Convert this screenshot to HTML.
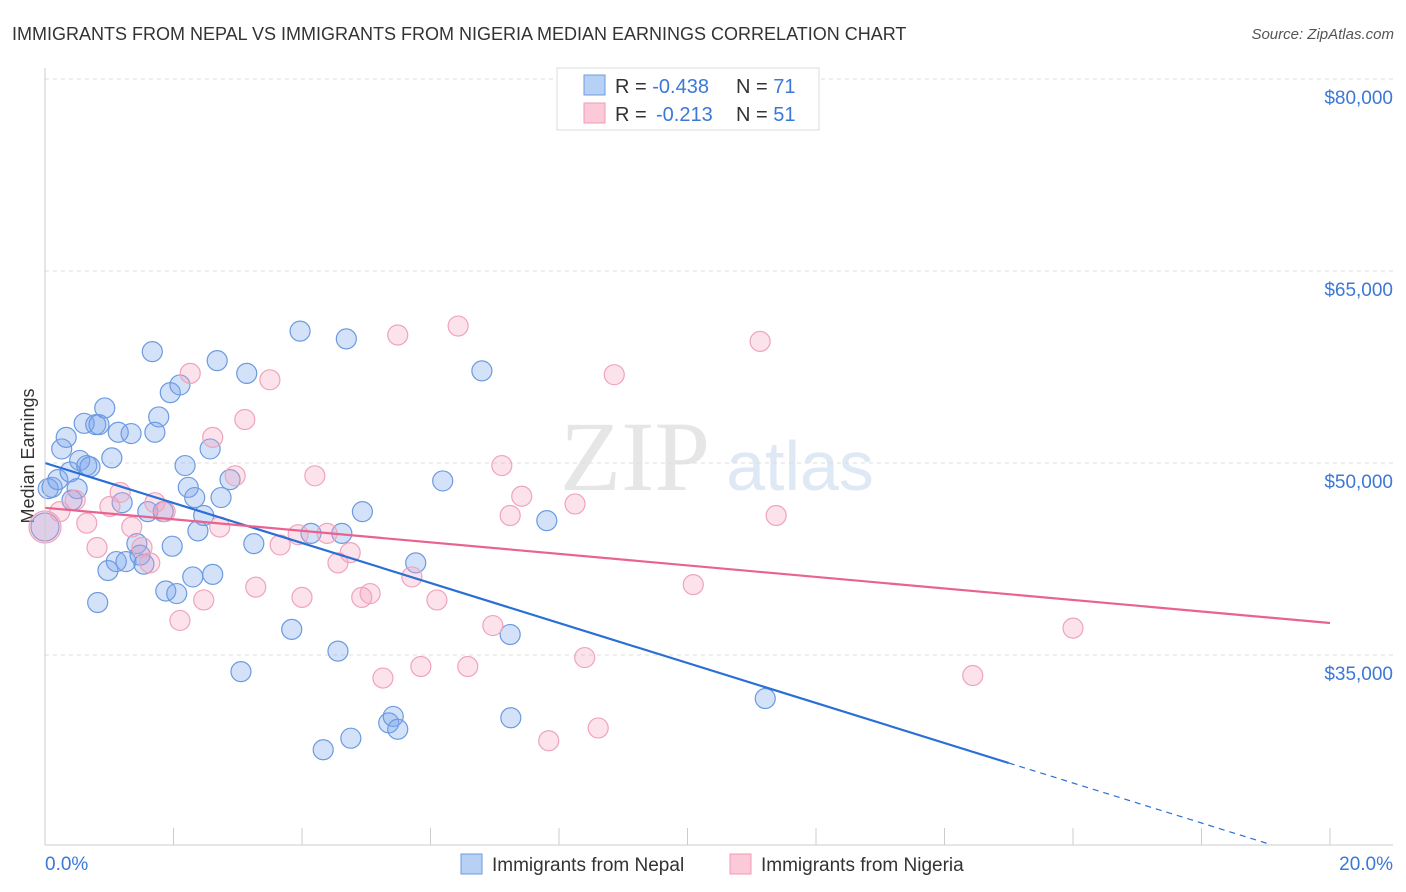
<!DOCTYPE html>
<html><head><meta charset="utf-8"><style>
body{margin:0;background:#fff;font-family:"Liberation Sans",sans-serif;}
#wrap{position:relative;width:1406px;height:892px;overflow:hidden;}
</style></head><body><div id="wrap">
<svg id="svg" width="1406" height="892" xmlns="http://www.w3.org/2000/svg">
<text x="12" y="40" font-size="18" fill="#333">IMMIGRANTS FROM NEPAL VS IMMIGRANTS FROM NIGERIA MEDIAN EARNINGS CORRELATION CHART</text>
<text x="1394" y="39" font-size="15" fill="#555" font-style="italic" text-anchor="end">Source: ZipAtlas.com</text>
<text x="635" y="490" font-size="100" fill="#e6e6e6" font-family="Liberation Serif,serif" text-anchor="middle">ZIP</text>
<text x="800" y="490" font-size="70" fill="#dfe8f5" text-anchor="middle">atlas</text>
<text transform="translate(34,456) rotate(-90)" font-size="18" fill="#333" text-anchor="middle">Median Earnings</text>
<g id="grid"></g><g id="ticks"></g><g id="pts"></g><g id="lines"></g>
<line x1="45" y1="68" x2="45" y2="845" stroke="#ccc"/>
<line x1="45" y1="845" x2="1393" y2="845" stroke="#ccc"/>
<text x="45" y="870" font-size="19" fill="#3b78d8">0.0%</text>
<text x="1393" y="870" font-size="19" fill="#3b78d8" text-anchor="end">20.0%</text>
<g>
<rect x="557" y="68" width="262" height="62" fill="#fff" stroke="#ddd"/>
<rect x="584" y="75" width="21" height="20" fill="#b7d1f4" stroke="#6f9be0"/>
<rect x="584" y="103" width="21" height="20" fill="#fbc9d7" stroke="#f09ab4"/>
<text x="615" y="93" font-size="20" fill="#333">R = <tspan fill="#3b78d8">-0.438</tspan><tspan x="736">N = </tspan><tspan fill="#3b78d8">71</tspan></text>
<text x="615" y="121" font-size="20" fill="#333">R = <tspan x="656" fill="#3b78d8">-0.213</tspan><tspan x="736">N = </tspan><tspan fill="#3b78d8">51</tspan></text>
</g>
<g>
<rect x="461" y="854" width="21" height="20" fill="#b7d1f4" stroke="#6f9be0"/>
<text x="492" y="871" font-size="19" fill="#333">Immigrants from Nepal</text></g>
<g>
<rect x="730" y="854" width="21" height="20" fill="#fbc9d7" stroke="#f09ab4"/>
<text x="761" y="871" font-size="19" fill="#333">Immigrants from Nigeria</text></g>
</svg></div>
<script>
const yTicks=[80000,65000,50000,35000];
const yTickLabels=["$80,000","$65,000","$50,000","$35,000"];
const xTicks=[0,2,4,6,8,10,12,14,16,18,20];
const nepalX=[0.05,0.11,0.20,0.26,0.33,0.39,0.42,0.50,0.54,0.61,0.65,0.70,0.79,0.84,0.93,0.82,0.98,1.04,1.11,1.14,1.20,1.26,1.34,1.43,1.48,1.54,1.60,1.67,1.71,1.77,1.84,1.88,1.95,1.98,2.05,2.10,2.18,2.23,2.30,2.33,2.38,2.47,2.57,2.61,2.68,2.74,2.88,3.05,3.14,3.25,3.84,3.97,4.14,4.33,4.56,4.62,4.69,4.76,4.94,5.35,5.42,5.49,5.77,6.19,6.80,7.24,7.25,7.81,11.21,0.0];
const nepalY=[48000,48100,48700,51100,52000,49300,47100,48000,50200,53100,49800,49700,53000,53000,54300,39100,41600,50400,42300,52400,46900,42300,52300,43700,42800,42100,46200,58700,52400,53600,46200,40000,55500,43500,39800,56100,49800,48100,41100,47300,44700,45900,51100,41300,58000,47300,48700,33700,57000,43700,37000,60300,44500,27600,35300,44500,59700,28500,46200,29700,30200,29200,42200,48600,57200,36600,30100,45500,31600,45000];
const nigeriaX=[0.23,0.47,0.65,0.81,1.01,1.17,1.35,1.51,1.63,1.71,1.87,2.10,2.26,2.47,2.61,2.72,2.96,3.11,3.28,3.50,3.66,3.94,4.00,4.20,4.39,4.56,4.75,4.93,5.06,5.26,5.49,5.71,5.85,6.10,6.43,6.58,6.97,7.11,7.24,7.42,7.84,8.25,8.40,8.61,8.86,10.09,11.13,11.38,14.44,16.00,0.0];
const nigeriaY=[46200,47100,45300,43400,46600,47700,45000,43400,42200,46900,46200,37700,57000,39300,52000,45000,49000,53400,40300,56500,43600,44400,39500,49000,44500,42200,43000,39500,39800,33200,60000,41100,34100,39300,60700,34100,37300,49800,45900,47400,28300,46800,34800,29300,56900,40500,59500,45900,33400,37100,45000];
const nepalTrend=[50000,18750];
const nigeriaTrend=[46500,37500];
const X=p=>45+p*64.25, Y=v=>463+(50000-v)*0.0128;
const NS="http://www.w3.org/2000/svg";
function mk(t,a,parent){const e=document.createElementNS(NS,t);for(const k in a)e.setAttribute(k,a[k]);document.getElementById(parent).appendChild(e);return e;}
yTicks.forEach((v,i)=>{
 const g=mk('line',{x1:45,x2:1393,y1:Y(v),y2:Y(v),stroke:'#ddd','stroke-dasharray':'4,4'},'grid');
 
 
 const t=mk('text',{x:1393,y:Y(v)+25,'font-size':19,fill:'#3b78d8','text-anchor':'end'},'grid');
 t.textContent=yTickLabels[i];
 
 
});
xTicks.forEach(p=>{
 const l=mk('line',{x1:X(p),x2:X(p),y1:828,y2:845,stroke:'#ccc'},'ticks');
 
 
});
nepalX.forEach((p,i)=>{
 const big=(i===nepalX.length-1);
 const c=mk('circle',{cx:X(p),cy:Y(nepalY[i]),r:big?14:10,fill:'rgba(120,165,235,0.32)',stroke:'#6b9ae0','stroke-width':1.2},'pts');
 
 
});
nigeriaX.forEach((p,i)=>{
 const big=(i===nigeriaX.length-1);
 const c=mk('circle',{cx:X(p),cy:Y(nigeriaY[i]),r:big?16:10,fill:'rgba(245,160,190,0.3)',stroke:'#f0a3bb','stroke-width':1.2},'pts');
 
 
});
const bs=v=>nepalTrend[0]+(nepalTrend[1]-nepalTrend[0])*v/20;
let l1=mk('line',{x1:X(0),y1:Y(bs(0)),x2:X(15),y2:Y(bs(15)),stroke:'#2a6fd6','stroke-width':2.2},'lines');


let l2=mk('line',{x1:X(15),y1:Y(bs(15)),x2:X(19.05),y2:Y(bs(19.05)),stroke:'#2a6fd6','stroke-width':1.2,'stroke-dasharray':'6,5'},'lines');


let l3=mk('line',{x1:X(0),y1:Y(nigeriaTrend[0]),x2:X(20),y2:Y(nigeriaTrend[1]),stroke:'#e8638f','stroke-width':2.2},'lines');


</script></body></html>
